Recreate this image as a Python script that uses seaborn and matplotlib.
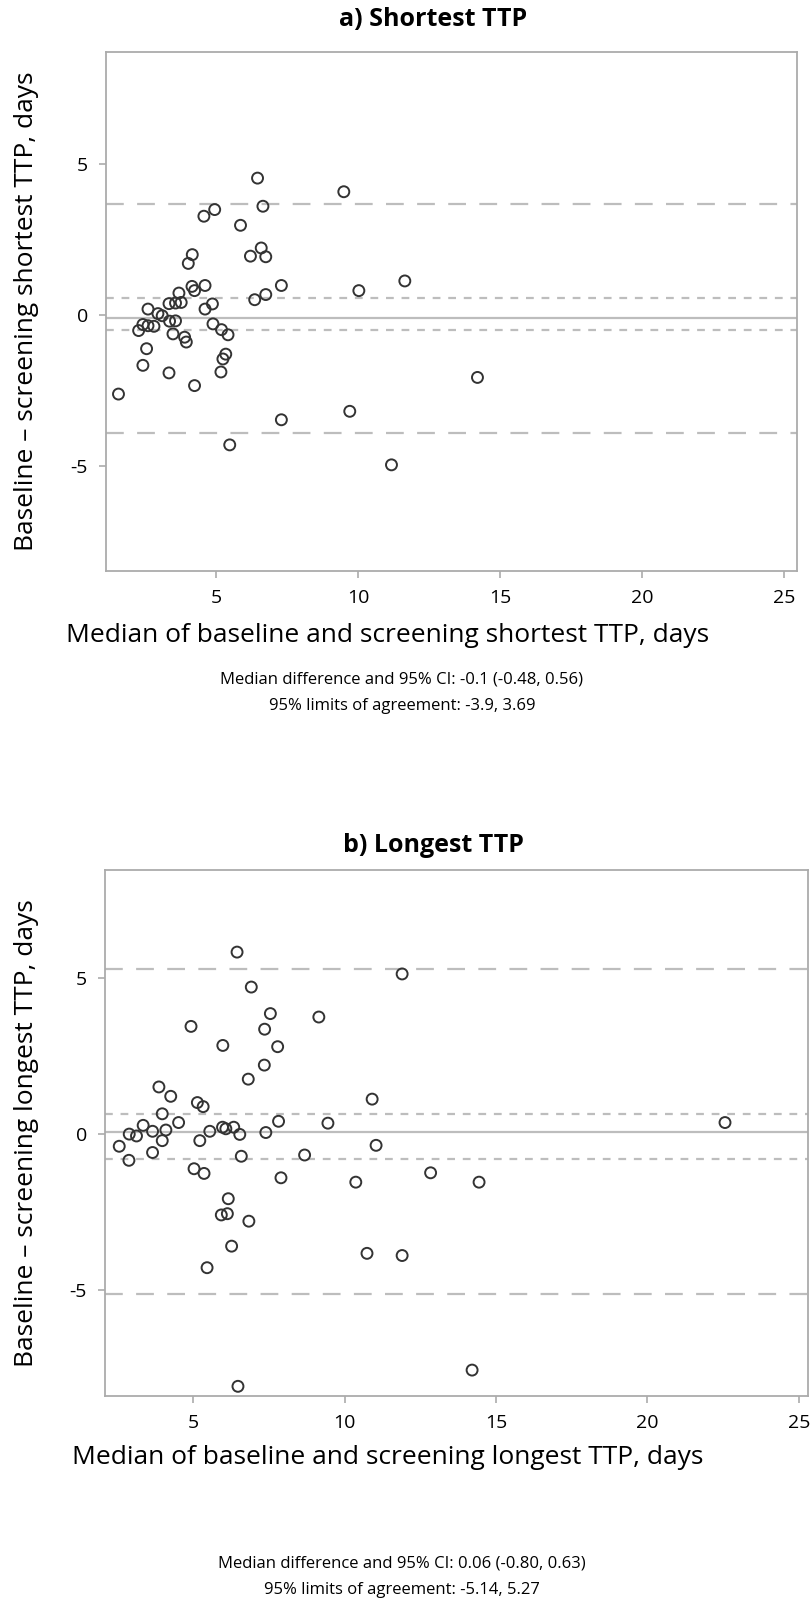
import matplotlib
matplotlib.use("Agg")
import matplotlib.pyplot as plt
import seaborn as sns
import numpy as np

# ---------------- data: a) Shortest TTP ----------------
short_median = [6.45, 9.49, 6.64, 4.94, 4.56, 5.85, 6.58, 6.20, 6.74, 4.15,
                4.01, 7.29, 10.02, 6.74, 6.35, 4.60, 4.14, 4.23, 3.68, 3.76,
                3.56, 3.33, 4.86, 4.60, 2.59, 2.94, 3.09, 3.35, 3.56, 2.41,
                2.59, 2.80, 2.26, 4.88, 5.18, 5.41, 3.47, 3.88, 3.94, 2.54,
                5.33, 5.23, 2.41, 3.33, 5.16, 1.55, 4.23, 7.29, 5.47, 9.70,
                14.2, 11.17, 11.64]
short_diff = [4.53, 4.08, 3.60, 3.49, 3.27, 2.97, 2.22, 1.95, 1.93, 2.00,
              1.71, 0.98, 0.81, 0.68, 0.51, 0.98, 0.95, 0.81, 0.73, 0.42,
              0.40, 0.38, 0.37, 0.20, 0.20, 0.05, -0.02, -0.20, -0.19, -0.31,
              -0.35, -0.37, -0.51, -0.29, -0.48, -0.65, -0.62, -0.73, -0.89, -1.11,
              -1.29, -1.45, -1.66, -1.91, -1.88, -2.61, -2.33, -3.46, -4.29, -3.18,
              -2.06, -4.95, 1.13]
short_stats = {"median": -0.1, "ci": (-0.48, 0.56), "loa": (-3.9, 3.69)}

# ---------------- data: b) Longest TTP ----------------
long_median = [6.45, 6.92, 7.55, 9.15, 7.36, 4.93, 5.98, 7.79, 7.35, 6.82,
               3.87, 4.26, 10.91, 5.14, 5.33, 3.98, 4.52, 3.35, 7.82, 9.45,
               5.97, 6.08, 6.34, 4.10, 3.66, 5.55, 2.89, 3.13, 6.54, 7.40,
               2.56, 3.98, 5.22, 11.04, 3.66, 2.88, 6.59, 8.68, 5.03, 5.36,
               7.90, 10.37, 6.16, 5.93, 6.13, 6.84, 6.27, 10.74, 5.46, 6.48,
               11.90, 12.84, 14.44, 22.56, 11.90, 14.21]
long_diff = [5.82, 4.70, 3.85, 3.74, 3.35, 3.44, 2.83, 2.79, 2.20, 1.75,
             1.50, 1.20, 1.11, 1.00, 0.87, 0.64, 0.36, 0.27, 0.40, 0.34,
             0.21, 0.16, 0.21, 0.12, 0.08, 0.08, -0.01, -0.07, -0.02, 0.04,
             -0.40, -0.22, -0.22, -0.37, -0.60, -0.85, -0.72, -0.68, -1.12, -1.27,
             -1.41, -1.55, -2.08, -2.60, -2.56, -2.80, -3.60, -3.83, -4.29, -8.09,
             5.12, -1.25, -1.55, 0.36, -3.90, -7.57]
long_stats = {"median": 0.06, "ci": (-0.80, 0.63), "loa": (-5.14, 5.27)}

x_ticks = [5, 10, 15, 20, 25]
y_ticks = [-5, 0, 5]

titles = ["a) Shortest TTP", "b) Longest TTP"]
xlabels = ["Median of baseline and screening shortest TTP, days",
           "Median of baseline and screening longest TTP, days"]
ylabels = ["Baseline \u2013 screening shortest TTP, days",
           "Baseline \u2013 screening longest TTP, days"]
notes = [["Median difference and 95% CI: -0.1 (-0.48, 0.56)",
          "95% limits of agreement: -3.9, 3.69"],
         ["Median difference and 95% CI: 0.06 (-0.80, 0.63)",
          "95% limits of agreement: -5.14, 5.27"]]

# ---------------- figure ----------------
sns.set_theme(style="white")
plt.rcParams['font.family'] = ['Open Sans', 'DejaVu Sans']

W, H = 810, 1603
fig = plt.figure(figsize=(W / 100, H / 100), dpi=100)
fig.patch.set_facecolor("white")


def px_axes(left, top, right, bottom):
    return fig.add_axes([left / W, 1 - bottom / H, (right - left) / W, (bottom - top) / H])


spine_c = "#ababab"
line_c = "#bdbdbd"

panels = [
    dict(box=(106, 52, 797, 571), xlim=(1.11, 25.46), ylim=(-8.46, 8.7),
         x=short_median, y=short_diff, st=short_stats,
         title_y=20, xlabel_y=635, note_y=(679, 706)),
    dict(box=(105, 870, 808, 1396), xlim=(2.09, 25.3), ylim=(-8.4, 8.45),
         x=long_median, y=long_diff, st=long_stats,
         title_y=846, xlabel_y=1458, note_y=(1563, 1590)),
]

for i, p in enumerate(panels):
    ax = px_axes(*p["box"])
    ax.set_facecolor("white")
    st = p["st"]
    ax.axhline(st["median"], color=line_c, lw=1.6, zorder=1)
    for v in st["ci"]:
        ax.axhline(v, color=line_c, lw=1.6, ls=(0, (3.5, 3.5)), zorder=1)
    for v in st["loa"]:
        ax.axhline(v, color=line_c, lw=1.6, ls=(0, (8, 6)), zorder=1)
    sns.scatterplot(x=p["x"], y=p["y"], ax=ax, marker="o", s=62,
                    fc="none", ec="#333333", linewidth=1.4, zorder=3)
    ax.set_xlim(*p["xlim"])
    ax.set_ylim(*p["ylim"])
    ax.set_xticks(x_ticks)
    ax.set_yticks(y_ticks)
    ax.set_xticklabels([str(t) for t in x_ticks])
    ax.set_yticklabels([str(t) for t in y_ticks])
    for s in ax.spines.values():
        s.set_color(spine_c)
        s.set_linewidth(1.3)
    ax.tick_params(axis="both", which="both", direction="out", length=5, width=1.2,
                   color=spine_c, labelsize=14, labelcolor="black", pad=8,
                   bottom=True, left=True)
    ax.set_xlabel("")
    ax.set_ylabel("")
    l, t, r, b = p["box"]
    fig.text(433 / W, 1 - p["title_y"] / H, titles[i], ha="center", va="center",
             fontsize=18, fontweight="bold", color="black")
    fig.text(388 / W, 1 - p["xlabel_y"] / H, xlabels[i], ha="center", va="center",
             fontsize=19, color="black")
    fig.text(27 / W, 1 - ((t + b) / 2) / H, ylabels[i], ha="center", va="center",
             rotation=90, fontsize=19, color="black")
    for ny, txt in zip(p["note_y"], notes[i]):
        fig.text(402 / W, 1 - ny / H, txt, ha="center", va="center",
                 fontsize=12, color="black")

fig.savefig("out.png", dpi=100, facecolor="white")
